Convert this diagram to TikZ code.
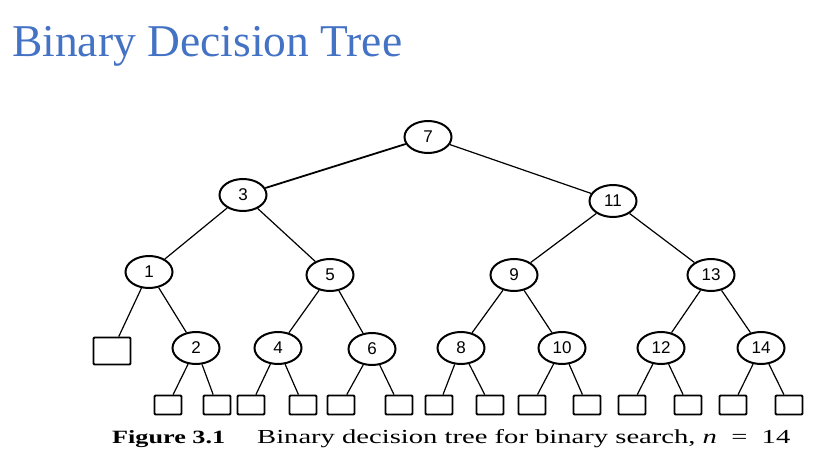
\documentclass[tikz,border=0pt]{standalone}
\usepackage{fontspec}
\usepackage{graphicx}
\setmainfont{Liberation Serif}
\newfontfamily\digitfont{Liberation Sans}
\usepackage{xcolor}
\definecolor{titleblue}{HTML}{4472C4}
\usetikzlibrary{shapes.geometric}

\begin{document}
\begin{tikzpicture}[
  x=1pt, y=-1pt,
  inner/.style={draw, ellipse, line width=2pt, minimum width=47pt, minimum height=32pt, inner sep=0pt, font=\digitfont\fontsize{17}{17}\selectfont},
  leaf/.style={draw, rectangle, rounded corners=1pt, line width=1.8pt, minimum width=27pt, minimum height=19pt, inner sep=0pt},
  bigleaf/.style={leaf, minimum width=37pt, minimum height=27pt},
  edge/.style={line width=1.2pt}
]
\useasboundingbox (0,0) rectangle (832,473);

% Title
\node[anchor=base west, inner sep=0pt, text=titleblue, font=\fontsize{45.5}{45.5}\selectfont] (title) at (12,57) {Binary Decision Tree};

% Internal nodes
\node[inner] (n7) at (428,137) {7};
\node[inner] (n3) at (243,195) {3};
\node[inner] (n11) at (613,201) {11};
\node[inner] (n1) at (149,272) {1};
\node[inner] (n5) at (330,275) {5};
\node[inner] (n9) at (514,275) {9};
\node[inner] (n13) at (711,275) {13};
\node[inner] (n2) at (196,348) {2};
\node[inner] (n4) at (278,348) {4};
\node[inner] (n6) at (372,349) {6};
\node[inner] (n8) at (461,348) {8};
\node[inner] (n10) at (562,348) {10};
\node[inner] (n12) at (661,348) {12};
\node[inner] (n14) at (761,348) {14};

% Leaves
\node[bigleaf] (l0) at (112,351) {};
\node[leaf] (l1) at (168,405) {};
\node[leaf] (l2) at (217,405) {};
\node[leaf] (l3) at (251,405) {};
\node[leaf] (l4) at (303,405) {};
\node[leaf] (l5) at (341,405) {};
\node[leaf] (l6) at (399,405) {};
\node[leaf] (l7) at (439,405) {};
\node[leaf] (l8) at (490,405) {};
\node[leaf] (l9) at (532,405) {};
\node[leaf] (l10) at (587,405) {};
\node[leaf] (l11) at (632,405) {};
\node[leaf] (l12) at (688,405) {};
\node[leaf] (l13) at (733,405) {};
\node[leaf] (l14) at (789,405) {};

% Edges
\draw[edge, line width=1.8pt] (n7) -- (n3);
\draw[edge] (n7) -- (n11);
\draw[edge] (n3) -- (n1);
\draw[edge] (n3) -- (n5);
\draw[edge] (n11) -- (n9);
\draw[edge] (n11) -- (n13);
\draw[edge] (n1) -- (l0);
\draw[edge] (n1) -- (n2);
\draw[edge] (n5) -- (n4);
\draw[edge] (n5) -- (n6);
\draw[edge] (n9) -- (n8);
\draw[edge] (n9) -- (n10);
\draw[edge] (n13) -- (n12);
\draw[edge] (n13) -- (n14);
\draw[edge] (n2) -- (l1);
\draw[edge] (n2) -- (l2);
\draw[edge] (n4) -- (l3);
\draw[edge] (n4) -- (l4);
\draw[edge] (n6) -- (l5);
\draw[edge] (n6) -- (l6);
\draw[edge] (n8) -- (l7);
\draw[edge] (n8) -- (l8);
\draw[edge] (n10) -- (l9);
\draw[edge] (n10) -- (l10);
\draw[edge] (n12) -- (l11);
\draw[edge] (n12) -- (l12);
\draw[edge] (n14) -- (l13);
\draw[edge] (n14) -- (l14);

% Caption
\node[anchor=base west, inner sep=0pt] (fig) at (112,443) {\resizebox{113pt}{13pt}{\bfseries Figure 3.1}};
\node[anchor=base west, inner sep=0pt] (cap) at (257,443) {\resizebox{533pt}{14pt}{Binary decision tree for binary search, \textit{n}\enspace=\enspace14}};
\end{tikzpicture}
\end{document}
